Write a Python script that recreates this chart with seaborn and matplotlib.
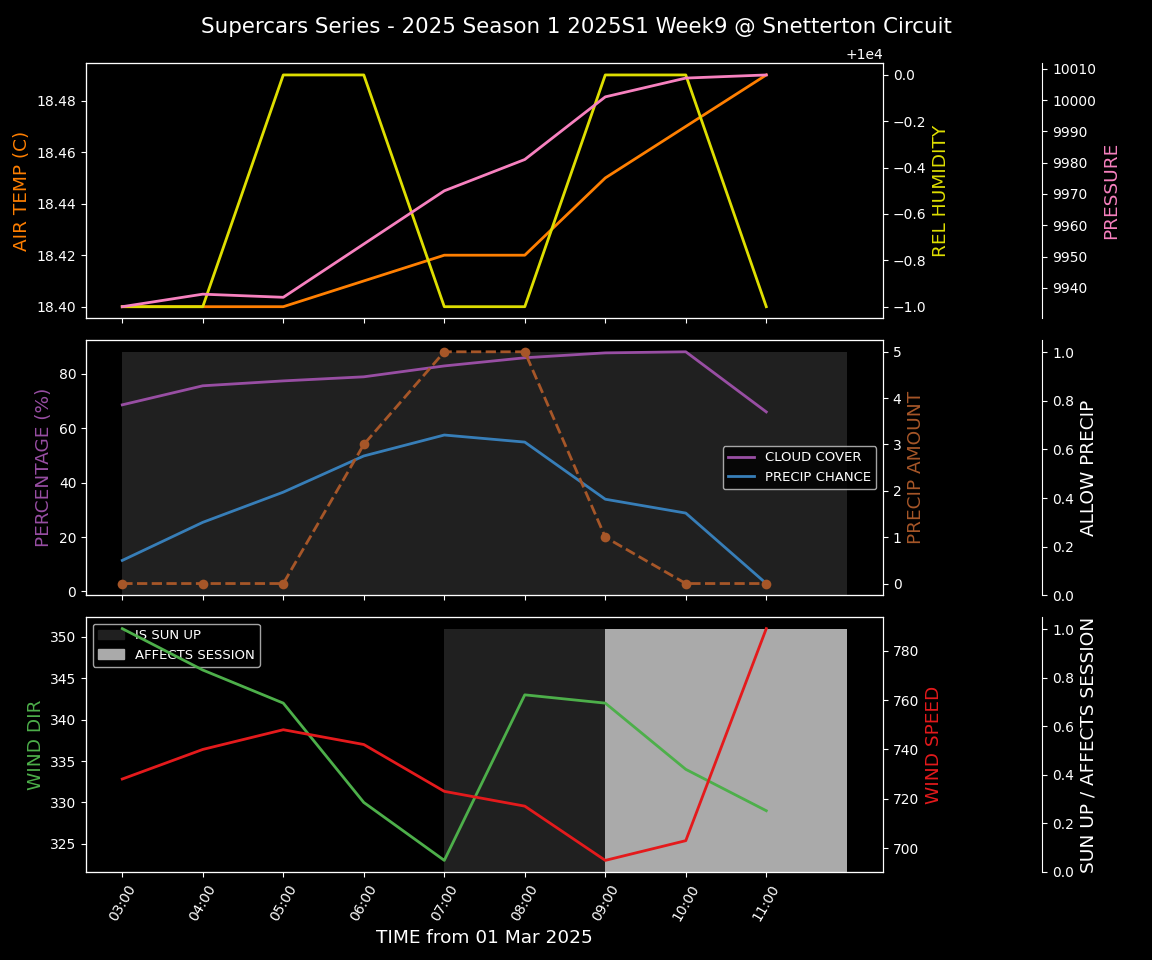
import pandas as pd
import matplotlib
matplotlib.use("Agg")
import matplotlib.pyplot as plt
import matplotlib.dates as mdates
from matplotlib.patches import Patch
import seaborn as sns

# hourly forecast values
hours = ["03:00", "04:00", "05:00", "06:00", "07:00", "08:00", "09:00", "10:00", "11:00"]
air_temp = [18.40, 18.40, 18.40, 18.41, 18.42, 18.42, 18.45, 18.47, 18.49]
rel_humidity = [9999, 9999, 10000, 10000, 9999, 9999, 10000, 10000, 9999]
pressure = [9934, 9938, 9937, 9954, 9971, 9981, 10001, 10007, 10008]
cloud_cover = [68.6, 75.6, 77.4, 78.9, 82.9, 85.9, 87.7, 88.1, 66.0]
precip_chance = [11.4, 25.4, 36.5, 49.8, 57.5, 54.9, 33.9, 28.8, 2.9]
precip_amount = [0, 0, 0, 3, 5, 5, 1, 0, 0]
wind_dir = [351, 346, 342, 330, 323, 343, 342, 334, 329]
wind_speed = [728, 740, 748, 742, 723, 717, 695, 703, 789]

# session flags (stepped, one extra hour closes the last step)
flag_hours = hours + ["12:00"]
allow_precip = [1, 1, 1, 1, 1, 1, 1, 1, 1, 1]
is_sun_up = [0, 0, 0, 0, 1, 1, 1, 1, 1, 1]
affects_session = [0, 0, 0, 0, 0, 0, 1, 1, 1, 1]

title = "Supercars Series - 2025 Season 1 2025S1 Week9 @ Snetterton Circuit"
day = "2025-03-01 "

C_TEMP, C_HUM, C_PRES = "#ff7f00", "#dede00", "#f781bf"
C_CLOUD, C_PCHANCE, C_PAMT = "#984ea3", "#377eb8", "#a65628"
C_WDIR, C_WSPD = "#4daf4a", "#e41a1c"
C_SUN, C_AFFECT = "#202020", "#aaaaaa"
LABEL_SIZE = 13.3
LEGEND_SIZE = 9.5


def main():
    plt.style.use("dark_background")
    times = pd.to_datetime([day + h for h in hours])
    ftimes = pd.to_datetime([day + h for h in flag_hours])

    fig, axes = plt.subplots(3, 1, figsize=(11.52, 9.6), dpi=100, sharex=True)
    fig.subplots_adjust(left=0.0747, right=0.7665, top=0.934, bottom=0.0917, hspace=0.086)
    fig.suptitle(title, fontsize=15.4, y=0.982, va="top")

    # --- top: temperature / humidity / pressure
    ax = axes[0]
    tw = ax.twinx()
    tw2 = ax.twinx()
    tw2.spines["right"].set_position(("axes", 1.2))
    sns.lineplot(x=times, y=air_temp, ax=ax, color=C_TEMP, linewidth=2)
    sns.lineplot(x=times, y=rel_humidity, ax=tw, color=C_HUM, linewidth=2)
    sns.lineplot(x=times, y=pressure, ax=tw2, color=C_PRES, linewidth=2)
    ax.set_ylabel("AIR TEMP (C)", color=C_TEMP, fontsize=LABEL_SIZE)
    tw.set_ylabel("REL HUMIDITY", color=C_HUM, fontsize=LABEL_SIZE)
    tw2.set_ylabel("PRESSURE", color=C_PRES, fontsize=LABEL_SIZE)

    # --- middle: cloud / precip
    ax = axes[1]
    tw = ax.twinx()
    tw2 = ax.twinx()
    tw2.spines["right"].set_position(("axes", 1.2))
    tw2.set_zorder(1)
    ax.set_zorder(2)
    tw.set_zorder(3)
    ax.patch.set_visible(False)
    tw2.fill_between(ftimes, allow_precip, step="post", color=C_SUN, linewidth=0)
    tw2.set_ylim(0, 1.05)
    sns.lineplot(x=times, y=cloud_cover, ax=ax, color=C_CLOUD, linewidth=2, label="CLOUD COVER")
    sns.lineplot(x=times, y=precip_chance, ax=ax, color=C_PCHANCE, linewidth=2, label="PRECIP CHANCE")
    sns.lineplot(x=times, y=precip_amount, ax=tw, color=C_PAMT, linewidth=2,
                 linestyle="--", marker="o", markersize=7, markeredgewidth=0)
    ax.legend(loc="center right", fontsize=LEGEND_SIZE)
    ax.set_ylabel("PERCENTAGE (%)", color=C_CLOUD, fontsize=LABEL_SIZE)
    tw.set_ylabel("PRECIP AMOUNT", color=C_PAMT, fontsize=LABEL_SIZE)
    tw2.set_ylabel("ALLOW PRECIP", color="white", fontsize=LABEL_SIZE)

    # --- bottom: wind and session flags
    ax = axes[2]
    tw = ax.twinx()
    tw2 = ax.twinx()
    tw2.spines["right"].set_position(("axes", 1.2))
    tw2.set_zorder(1)
    ax.set_zorder(2)
    tw.set_zorder(3)
    ax.patch.set_visible(False)
    tw2.fill_between(ftimes, is_sun_up, step="post", color=C_SUN, linewidth=0)
    tw2.fill_between(ftimes, affects_session, step="post", color=C_AFFECT, linewidth=0)
    tw2.set_ylim(0, 1.05)
    sns.lineplot(x=times, y=wind_dir, ax=ax, color=C_WDIR, linewidth=2)
    sns.lineplot(x=times, y=wind_speed, ax=tw, color=C_WSPD, linewidth=2)
    leg = ax.legend(handles=[Patch(color=C_SUN, label="IS SUN UP"),
                             Patch(color=C_AFFECT, label="AFFECTS SESSION")],
                    loc="upper left", fontsize=LEGEND_SIZE)
    leg.set_zorder(1)
    ax.set_ylabel("WIND DIR", color=C_WDIR, fontsize=LABEL_SIZE)
    tw.set_ylabel("WIND SPEED", color=C_WSPD, fontsize=LABEL_SIZE)
    tw2.set_ylabel("SUN UP / AFFECTS SESSION", color="white", fontsize=LABEL_SIZE)

    ax.set_xticks(times)
    ax.xaxis.set_major_formatter(mdates.DateFormatter("%H:%M"))
    ax.tick_params(axis="x", labelrotation=60)
    ax.set_xlabel("TIME from 01 Mar 2025", fontsize=LABEL_SIZE)

    fig.savefig("out.png", dpi=100, facecolor="black")


if __name__ == "__main__":
    main()
